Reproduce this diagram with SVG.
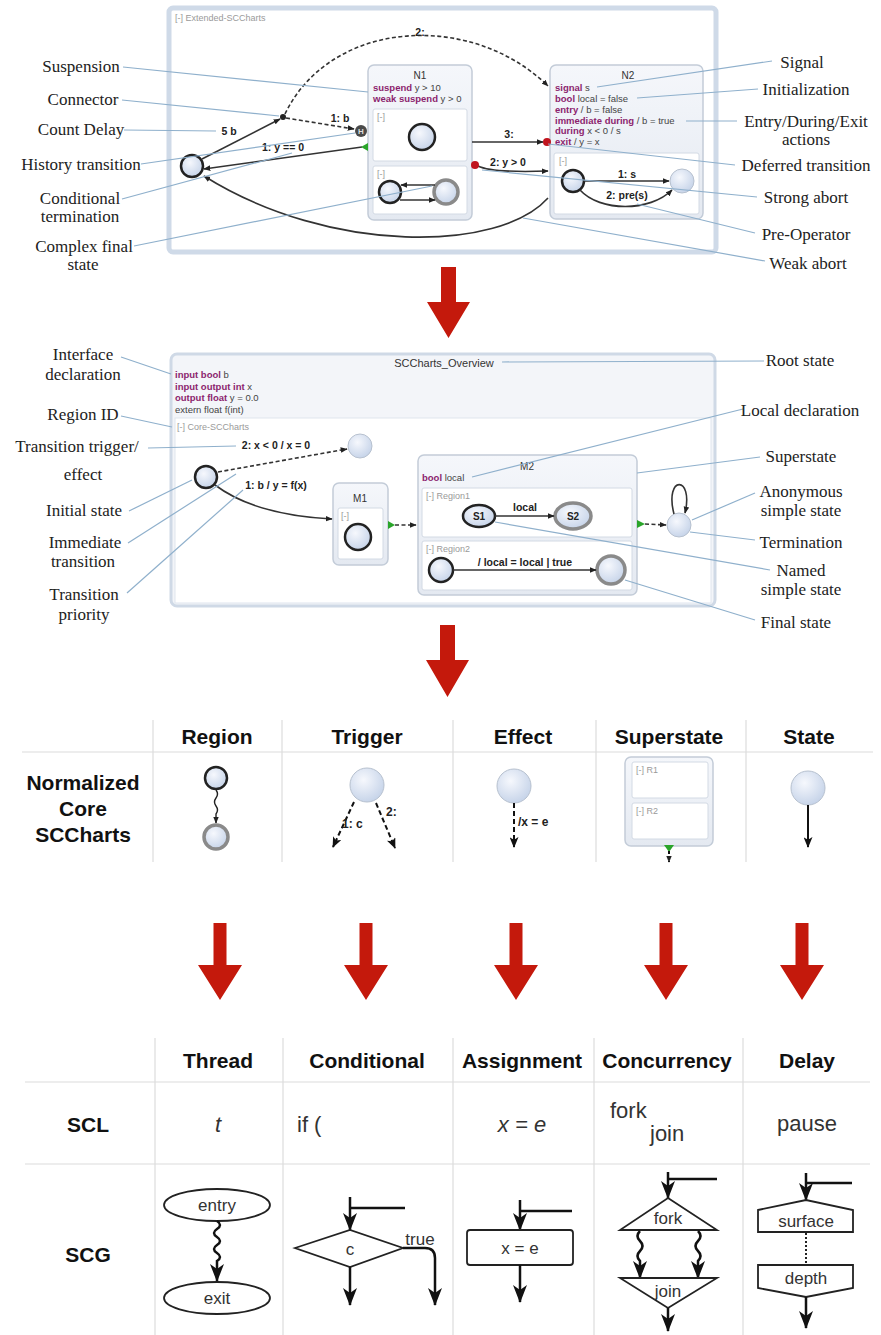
<svg xmlns="http://www.w3.org/2000/svg" width="881" height="1335" viewBox="0 0 881 1335">
<defs>
  <radialGradient id="stateFill" cx="0.4" cy="0.35" r="0.7">
    <stop offset="0" stop-color="#f6f8fd"/>
    <stop offset="1" stop-color="#c4d2e8"/>
  </radialGradient>
  <linearGradient id="boxFill" x1="0" y1="0" x2="0" y2="1">
    <stop offset="0" stop-color="#f5f7fb"/>
    <stop offset="1" stop-color="#e4e9f1"/>
  </linearGradient>
  <marker id="ah" viewBox="0 0 10 10" refX="9" refY="5" markerWidth="7" markerHeight="7" markerUnits="userSpaceOnUse" orient="auto">
    <path d="M0,1 L10,5 L0,9 z" fill="#222"/>
  </marker>
  <marker id="ahMid" viewBox="0 0 12 10" refX="11" refY="5" markerWidth="11" markerHeight="9" markerUnits="userSpaceOnUse" orient="auto">
    <path d="M0,0 L12,5 L0,10 L3,5 z" fill="#111"/>
  </marker>
  <marker id="ahBig" viewBox="0 0 18 14" refX="17" refY="7" markerWidth="18" markerHeight="14" markerUnits="userSpaceOnUse" orient="auto">
    <path d="M0,0 L18,7 L0,14 L5,7 z" fill="#111"/>
  </marker>
</defs>
<style>
  .lbl { font-family: "Liberation Serif", serif; font-size: 17px; fill: #222; text-anchor: middle; }
  .lead { stroke: #8fb0cc; stroke-width: 1.2; fill: none; }
  .st { fill: url(#stateFill); stroke: #222; stroke-width: 2.5; }
  .st-plain { fill: url(#stateFill); stroke: #b7c1cf; stroke-width: 1; }
  .st-final { fill: url(#stateFill); stroke: #8a8a8a; stroke-width: 3.5; }
  .box { fill: url(#boxFill); stroke: #c3ccd8; stroke-width: 1.5; }
  .reg { fill: #fff; stroke: #d3dae4; stroke-width: 1; }
  .tiny { font-family: "Liberation Sans", sans-serif; font-size: 9px; fill: #9a9a9a; }
  .code { font-family: "Liberation Sans", sans-serif; font-size: 9.5px; fill: #444; }
  .kw { fill: #8c1f6e; font-weight: bold; }
  .nm { font-family: "Liberation Sans", sans-serif; font-size: 10px; fill: #333; text-anchor: middle; }
  .tr { stroke: #333; stroke-width: 1.6; fill: none; }
  .dash { stroke-dasharray: 4 2.5; }
  .tl { font-family: "Liberation Sans", sans-serif; font-size: 10.5px; font-weight: bold; fill: #222; text-anchor: middle; }
  .red { fill: #c4190c; }
  .dot { fill: #c0141e; }
  .green { fill: #2aa52a; }
  .grid { stroke: #dcdcdc; stroke-width: 1.2; }
  .th { font-family: "Liberation Sans", sans-serif; font-size: 21px; font-weight: bold; fill: #111; text-anchor: middle; }
  .scl { font-family: "Liberation Sans", sans-serif; font-size: 22px; fill: #333; }
  .scg { stroke: #222; stroke-width: 1.8; fill: #fff; }
  .scgt { font-family: "Liberation Sans", sans-serif; font-size: 17px; fill: #333; text-anchor: middle; }
  .flow { stroke: #111; stroke-width: 2.5; fill: none; }
  .cell { stroke: #111; stroke-width: 2; fill: none; }
  .ctl { font-family: "Liberation Sans", sans-serif; font-size: 12px; font-weight: bold; fill: #222; }
</style>

<!-- ===== Extended SCCharts ===== -->
<g id="extended-frame">
  <rect x="169" y="8" width="547" height="244" rx="4" fill="#fff" stroke="#cfdae8" stroke-width="5"/>
  <text class="tiny" x="175" y="21">[-] Extended-SCCharts</text>
</g>

<g id="ext-init">
  <circle class="st" cx="192" cy="166" r="11"/>
</g>
<g id="ext-connector">
  <circle cx="283" cy="117" r="3" fill="#222"/>
</g>
<g id="ext-history">
  <circle cx="361" cy="131" r="6" fill="#4a4a4a"/>
  <text x="361" y="134" font-family="Liberation Sans, sans-serif" font-size="8" font-weight="bold" fill="#ddd" text-anchor="middle">H</text>
</g>

<g id="N1">
  <rect class="box" x="368" y="65" width="104" height="155" rx="6"/>
  <text class="nm" x="420" y="79">N1</text>
  <text class="code" x="373" y="91"><tspan class="kw">suspend</tspan> y &gt; 10</text>
  <text class="code" x="373" y="102"><tspan class="kw">weak suspend</tspan> y &gt; 0</text>
  <rect class="reg" x="373" y="109" width="94" height="52" rx="2"/>
  <text class="tiny" x="377" y="120">[-]</text>
  <circle class="st" cx="422" cy="137" r="13" stroke-width="3"/>
  <rect class="reg" x="373" y="166" width="94" height="48" rx="2"/>
  <text class="tiny" x="377" y="177">[-]</text>
  <circle class="st" cx="390" cy="192" r="11"/>
  <circle class="st-final" cx="446" cy="192" r="12"/>
  <line class="tr" x1="435" y1="185" x2="401" y2="185" marker-end="url(#ah)"/>
  <line class="tr" x1="400" y1="200" x2="435" y2="200" marker-end="url(#ah)"/>
</g>

<g id="N2">
  <rect class="box" x="550" y="65" width="153" height="154" rx="6"/>
  <text class="nm" x="628" y="79">N2</text>
  <text class="code" x="555" y="91"><tspan class="kw">signal</tspan> s</text>
  <text class="code" x="555" y="102"><tspan class="kw">bool</tspan> local = false</text>
  <text class="code" x="555" y="113"><tspan class="kw">entry</tspan> / b = false</text>
  <text class="code" x="555" y="124"><tspan class="kw">immediate during</tspan> / b = true</text>
  <text class="code" x="555" y="134"><tspan class="kw">during</tspan> x &lt; 0 / s</text>
  <text class="code" x="555" y="145"><tspan class="kw">exit</tspan> / y = x</text>
  <rect class="reg" x="554" y="153" width="145" height="61" rx="2"/>
  <text class="tiny" x="559" y="164">[-]</text>
  <circle class="st" cx="573" cy="181" r="11"/>
  <circle class="st-plain" cx="682" cy="181" r="12"/>
  <line class="tr" x1="584" y1="181" x2="669" y2="181" marker-end="url(#ah)"/>
  <text class="tl" x="627" y="178">1: s</text>
  <path class="tr" d="M580,190 C600,212 650,212 672,190" marker-end="url(#ah)"/>
  <text class="tl" x="627" y="199">2: pre(s)</text>
</g>

<g id="ext-connectors">
  <line class="tr" x1="202" y1="159" x2="280" y2="119" marker-end="url(#ah)"/>
  <text class="tl" x="229" y="135">5 b</text>
  <line class="tr dash" x1="286" y1="118" x2="354" y2="129" marker-end="url(#ah)"/>
  <text class="tl" x="340" y="122">1: b</text>
  <path class="tr dash" d="M285,114 C330,20 470,10 548,86" marker-end="url(#ah)"/>
  <text class="tl" x="420" y="36">2:</text>
  <line class="tr" x1="362" y1="147" x2="204" y2="169" marker-end="url(#ah)"/>
  <polygon class="green" points="361,147 368,143 368,151"/>
  <text class="tl" x="283" y="151">1: y == 0</text>
  <path class="tr" d="M548,198 C500,252 330,255 204,176" marker-end="url(#ah)"/>
  <line class="tr" x1="472" y1="142" x2="543" y2="142" marker-end="url(#ah)"/>
  <circle class="dot" cx="547" cy="142" r="4"/>
  <text class="tl" x="509" y="138">3:</text>
  <path class="tr" d="M478,166 Q492,173 548,171" marker-end="url(#ah)"/>
  <circle class="dot" cx="475" cy="165" r="4"/>
  <text class="tl" x="508" y="166">2: y &gt; 0</text>
</g>

<g id="ext-annotations">
  <line class="lead" x1="123" y1="67" x2="368" y2="92"/>
  <line class="lead" x1="122" y1="100" x2="279" y2="116"/>
  <line class="lead" x1="124" y1="130" x2="216" y2="131"/>
  <line class="lead" x1="141" y1="164" x2="355" y2="133"/>
  <line class="lead" x1="122" y1="199" x2="292" y2="153"/>
  <line class="lead" x1="134" y1="246" x2="432" y2="186"/>
  <line class="lead" x1="597" y1="87" x2="772" y2="61"/>
  <line class="lead" x1="637" y1="98" x2="758" y2="89"/>
  <line class="lead" x1="686" y1="121" x2="737" y2="121"/>
  <line class="lead" x1="548" y1="144" x2="735" y2="165"/>
  <line class="lead" x1="482" y1="170" x2="757" y2="197"/>
  <line class="lead" x1="637" y1="204" x2="755" y2="233"/>
  <line class="lead" x1="523" y1="218" x2="765" y2="261"/>
  <text class="lbl" x="81" y="72">Suspension</text>
  <text class="lbl" x="83" y="105">Connector</text>
  <text class="lbl" x="81" y="135">Count Delay</text>
  <text class="lbl" x="81" y="170">History transition</text>
  <text class="lbl" x="80" y="204">Conditional</text>
  <text class="lbl" x="80" y="222">termination</text>
  <text class="lbl" x="84" y="252">Complex final</text>
  <text class="lbl" x="83" y="270">state</text>
  <text class="lbl" x="802" y="68">Signal</text>
  <text class="lbl" x="806" y="95">Initialization</text>
  <text class="lbl" x="806" y="127">Entry/During/Exit</text>
  <text class="lbl" x="806" y="145">actions</text>
  <text class="lbl" x="806" y="171">Deferred transition</text>
  <text class="lbl" x="806" y="203">Strong abort</text>
  <text class="lbl" x="806" y="240">Pre-Operator</text>
  <text class="lbl" x="808" y="269">Weak abort</text>
</g>

<!-- transformation arrows -->
<polygon class="red" points="441,267 456,267 456,302 470,302 448.5,338 427,302 441,302"/>

<!-- ===== Core SCCharts overview ===== -->
<g id="overview-frame">
  <rect x="171" y="354" width="544" height="252" rx="6" fill="#f3f5f9" stroke="#cfd9e6" stroke-width="3"/>
  <rect x="175" y="418" width="536" height="185" fill="#fff" stroke="#dfe5ee" stroke-width="1"/>
  <text x="444" y="367" font-family="Liberation Sans, sans-serif" font-size="11" fill="#333" text-anchor="middle">SCCharts_Overview</text>
  <text class="code" x="175" y="378"><tspan class="kw">input bool</tspan> b</text>
  <text class="code" x="175" y="390"><tspan class="kw">input output int</tspan> x</text>
  <text class="code" x="175" y="401"><tspan class="kw">output float</tspan> y = 0.0</text>
  <text class="code" x="175" y="413">extern float f(int)</text>
  <text class="tiny" x="177" y="430">[-] Core-SCCharts</text>
</g>

<g id="ov-init">
  <circle class="st" cx="206" cy="477" r="11"/>
</g>
<g id="ov-anon-top">
  <circle class="st-plain" cx="360" cy="446" r="12"/>
</g>
<g id="M1">
  <rect class="box" x="333" y="483" width="55" height="82" rx="6"/>
  <text class="nm" x="360" y="502">M1</text>
  <rect class="reg" x="338" y="508" width="45" height="51" rx="2"/>
  <text class="tiny" x="341" y="519">[-]</text>
  <circle class="st" cx="358" cy="537" r="13" stroke-width="3"/>
</g>
<g id="M2">
  <rect class="box" x="418" y="455" width="219" height="140" rx="6"/>
  <text class="nm" x="527" y="470">M2</text>
  <text class="code" x="422" y="481"><tspan class="kw">bool</tspan> local</text>
  <rect class="reg" x="422" y="488" width="210" height="49" rx="2"/>
  <text class="tiny" x="426" y="499">[-] Region1</text>
  <ellipse class="st" cx="479" cy="516" rx="16" ry="11"/>
  <text x="479" y="520" font-family="Liberation Sans, sans-serif" font-size="10" font-weight="bold" fill="#222" text-anchor="middle">S1</text>
  <ellipse class="st-final" cx="573" cy="516" rx="18" ry="13"/>
  <text x="573" y="520" font-family="Liberation Sans, sans-serif" font-size="10" font-weight="bold" fill="#222" text-anchor="middle">S2</text>
  <line class="tr" x1="495" y1="516" x2="554" y2="516" marker-end="url(#ah)"/>
  <text class="tl" x="525" y="511">local</text>
  <rect class="reg" x="422" y="541" width="210" height="49" rx="2"/>
  <text class="tiny" x="426" y="552">[-] Region2</text>
  <circle class="st" cx="441" cy="570" r="12"/>
  <circle class="st-final" cx="611" cy="570" r="14"/>
  <line class="tr" x1="453" y1="570" x2="596" y2="570" marker-end="url(#ah)"/>
  <text class="tl" x="525" y="566">/ local = local | true</text>
</g>
<g id="ov-anon-right">
  <circle class="st-plain" cx="679" cy="525" r="12"/>
</g>

<g id="ov-connectors">
  <line class="tr dash" x1="218" y1="472" x2="347" y2="449" marker-end="url(#ah)"/>
  <text class="tl" x="276" y="449">2: x &lt; 0 / x = 0</text>
  <path class="tr" d="M215,485 Q255,515 332,519" marker-end="url(#ah)"/>
  <text class="tl" x="276" y="489">1: b / y = f(x)</text>
  <polygon class="green" points="388,521 395,525 388,529"/>
  <line class="tr dash" x1="395" y1="525" x2="416" y2="525" marker-end="url(#ah)"/>
  <polygon class="green" points="637,520 645,524 637,528"/>
  <line class="tr dash" x1="645" y1="524" x2="666" y2="525" marker-end="url(#ah)"/>
  <path class="tr" d="M674,514 C664,475 694,475 685,513" marker-end="url(#ah)"/>
</g>

<g id="ov-annotations">
  <line class="lead" x1="121" y1="357" x2="171" y2="374"/>
  <line class="lead" x1="121" y1="416" x2="172" y2="427"/>
  <line class="lead" x1="148" y1="448" x2="236" y2="446"/>
  <line class="lead" x1="129" y1="511" x2="192" y2="480"/>
  <line class="lead" x1="128" y1="543" x2="236" y2="474"/>
  <line class="lead" x1="127" y1="593" x2="243" y2="490"/>
  <line class="lead" x1="502" y1="362" x2="764" y2="361"/>
  <line class="lead" x1="472" y1="477" x2="743" y2="409"/>
  <line class="lead" x1="637" y1="473" x2="760" y2="457"/>
  <line class="lead" x1="692" y1="520" x2="755" y2="493"/>
  <line class="lead" x1="690" y1="532" x2="755" y2="540"/>
  <line class="lead" x1="495" y1="522" x2="770" y2="570"/>
  <line class="lead" x1="625" y1="580" x2="755" y2="620"/>
  <text class="lbl" x="83" y="360">Interface</text>
  <text class="lbl" x="83" y="380">declaration</text>
  <text class="lbl" x="83" y="420">Region ID</text>
  <text class="lbl" x="77" y="452">Transition trigger/</text>
  <text class="lbl" x="83" y="480">effect</text>
  <text class="lbl" x="84" y="516">Initial state</text>
  <text class="lbl" x="85" y="548">Immediate</text>
  <text class="lbl" x="83" y="567">transition</text>
  <text class="lbl" x="84" y="600">Transition</text>
  <text class="lbl" x="84" y="620">priority</text>
  <text class="lbl" x="800" y="366">Root state</text>
  <text class="lbl" x="800" y="416">Local declaration</text>
  <text class="lbl" x="801" y="462">Superstate</text>
  <text class="lbl" x="801" y="497">Anonymous</text>
  <text class="lbl" x="801" y="516">simple state</text>
  <text class="lbl" x="801" y="548">Termination</text>
  <text class="lbl" x="801" y="576">Named</text>
  <text class="lbl" x="801" y="595">simple state</text>
  <text class="lbl" x="796" y="628">Final state</text>
</g>

<polygon class="red" points="440,625 455,625 455,660 469,660 447.5,697 426,660 440,660"/>

<!-- ===== Normalized Core SCCharts table ===== -->
<g id="table-core">
  <line class="grid" x1="22" y1="752" x2="873" y2="752"/>
  <line class="grid" x1="153" y1="720" x2="153" y2="862"/>
  <line class="grid" x1="282" y1="720" x2="282" y2="862"/>
  <line class="grid" x1="453" y1="720" x2="453" y2="862"/>
  <line class="grid" x1="596" y1="720" x2="596" y2="862"/>
  <line class="grid" x1="746" y1="720" x2="746" y2="862"/>
  <text class="th" x="217" y="744">Region</text>
  <text class="th" x="367" y="744">Trigger</text>
  <text class="th" x="523" y="744">Effect</text>
  <text class="th" x="669" y="744">Superstate</text>
  <text class="th" x="809" y="744">State</text>
  <text class="th" x="83" y="790">Normalized</text>
  <text class="th" x="83" y="816">Core</text>
  <text class="th" x="83" y="842">SCCharts</text>
</g>
<g id="core-region">
  <circle class="st" cx="216" cy="778" r="11"/>
  <path d="M216,790 q3,4 0,8 q-3,4 0,8 q3,4 0,8 L216,823" stroke="#222" stroke-width="1.4" fill="none" marker-end="url(#ah)"/>
  <circle class="st-final" cx="216" cy="837" r="12"/>
</g>
<g id="core-trigger">
  <circle class="st-plain" cx="367" cy="785" r="17"/>
  <line class="cell" x1="354" y1="802" x2="333" y2="847" stroke-dasharray="5 3" marker-end="url(#ahMid)"/>
  <line class="cell" x1="376" y1="803" x2="395" y2="848" stroke-dasharray="5 3" marker-end="url(#ahMid)"/>
  <text class="ctl" x="342" y="828">1: c</text>
  <text class="ctl" x="386" y="816">2:</text>
</g>
<g id="core-effect">
  <circle class="st-plain" cx="514" cy="786" r="17"/>
  <line class="cell" x1="514" y1="803" x2="514" y2="847" stroke-dasharray="5 3" marker-end="url(#ahMid)"/>
  <text class="ctl" x="518" y="826">/x = e</text>
</g>
<g id="core-superstate">
  <rect class="box" x="625" y="757" width="88" height="89" rx="6" stroke="#ccd6e3" stroke-width="3"/>
  <rect class="reg" x="632" y="762" width="76" height="36" rx="2"/>
  <text class="tiny" x="636" y="773" fill="#cfcfcf">[-] R1</text>
  <rect class="reg" x="632" y="803" width="76" height="36" rx="2"/>
  <text class="tiny" x="636" y="814" fill="#cfcfcf">[-] R2</text>
  <polygon class="green" points="664,845 674,845 669,852"/>
  <line class="cell" x1="669" y1="851" x2="669" y2="862" stroke-width="1.6" stroke-dasharray="3 2" marker-end="url(#ah)"/>
</g>
<g id="core-state">
  <circle class="st-plain" cx="808" cy="788" r="17"/>
  <line class="cell" x1="808" y1="805" x2="808" y2="847" marker-end="url(#ahMid)"/>
</g>

<g id="lowering-arrows">
  <polygon class="red" points="213.5,923 226.5,923 226.5,965 242,965 220,1000 198,965 213.5,965"/>
  <polygon class="red" points="359.5,923 372.5,923 372.5,965 388,965 366,1000 344,965 359.5,965"/>
  <polygon class="red" points="509.5,923 522.5,923 522.5,965 538,965 516,1000 494,965 509.5,965"/>
  <polygon class="red" points="659.5,923 672.5,923 672.5,965 688,965 666,1000 644,965 659.5,965"/>
  <polygon class="red" points="795.5,923 808.5,923 808.5,965 824,965 802,1000 780,965 795.5,965"/>
</g>

<!-- ===== SCL / SCG table ===== -->
<g id="table-scg">
  <line class="grid" x1="25" y1="1082" x2="870" y2="1082"/>
  <line class="grid" x1="25" y1="1164" x2="870" y2="1164"/>
  <line class="grid" x1="155" y1="1038" x2="155" y2="1335"/>
  <line class="grid" x1="283" y1="1038" x2="283" y2="1335"/>
  <line class="grid" x1="453" y1="1038" x2="453" y2="1335"/>
  <line class="grid" x1="594" y1="1038" x2="594" y2="1335"/>
  <line class="grid" x1="743" y1="1038" x2="743" y2="1335"/>
  <text class="th" x="218" y="1068">Thread</text>
  <text class="th" x="367" y="1068">Conditional</text>
  <text class="th" x="522" y="1068">Assignment</text>
  <text class="th" x="667" y="1068">Concurrency</text>
  <text class="th" x="807" y="1068">Delay</text>
  <text class="th" x="88" y="1132">SCL</text>
  <text class="th" x="88" y="1262">SCG</text>
  <text class="scl" x="218" y="1132" text-anchor="middle" font-style="italic">t</text>
  <text class="scl" x="297" y="1132">if (</text>
  <text class="scl" x="522" y="1132" text-anchor="middle" font-style="italic">x = e</text>
  <text class="scl" x="610" y="1118">fork</text>
  <text class="scl" x="650" y="1141">join</text>
  <text class="scl" x="807" y="1131" text-anchor="middle">pause</text>
</g>

<g id="scg-thread">
  <ellipse class="scg" cx="217" cy="1205" rx="53" ry="16"/>
  <text class="scgt" x="217" y="1211">entry</text>
  <path class="flow" d="M217,1221 q6,4 0,8 q-6,4 0,8 q6,4 0,8 q-6,4 0,8 q6,4 0,8 L217,1281" marker-end="url(#ahBig)"/>
  <ellipse class="scg" cx="217" cy="1298" rx="53" ry="16"/>
  <text class="scgt" x="217" y="1304">exit</text>
</g>

<g id="scg-conditional">
  <path class="flow" d="M405,1208 H350"/>
  <path class="flow" d="M350,1197 V1230" marker-end="url(#ahBig)"/>
  <polygon class="scg" points="295,1248 350,1230 403,1248 350,1267"/>
  <text class="scgt" x="350" y="1255">c</text>
  <path class="flow" d="M350,1267 V1305" marker-end="url(#ahBig)"/>
  <path class="flow" d="M403,1248 H425 Q435,1248 435,1258 V1305" marker-end="url(#ahBig)"/>
  <text class="scgt" x="420" y="1245">true</text>
</g>

<g id="scg-assignment">
  <path class="flow" d="M572,1211 H520"/>
  <path class="flow" d="M520,1200 V1230" marker-end="url(#ahBig)"/>
  <rect class="scg" x="467" y="1230" width="106" height="35" rx="3"/>
  <text class="scgt" x="520" y="1254">x = e</text>
  <path class="flow" d="M520,1265 V1302" marker-end="url(#ahBig)"/>
</g>

<g id="scg-concurrency">
  <path class="flow" d="M717,1179 H668"/>
  <path class="flow" d="M668,1172 V1198" marker-end="url(#ahBig)"/>
  <polygon class="scg" points="668,1198 717,1230 620,1230"/>
  <text class="scgt" x="668" y="1224">fork</text>
  <path class="flow" d="M640,1231 q-5,5 0,10 q5,5 0,10 q-5,5 0,10 L640,1278" marker-end="url(#ahBig)"/>
  <path class="flow" d="M698,1231 q5,5 0,10 q-5,5 0,10 q5,5 0,10 L698,1278" marker-end="url(#ahBig)"/>
  <polygon class="scg" points="620,1278 717,1278 668,1308"/>
  <text class="scgt" x="668" y="1297">join</text>
  <path class="flow" d="M668,1308 V1331" marker-end="url(#ahBig)"/>
</g>

<g id="scg-delay">
  <path class="flow" d="M852,1183 H806"/>
  <path class="flow" d="M806,1173 V1200" marker-end="url(#ahBig)"/>
  <polygon class="scg" points="758,1210 806,1200 853,1210 853,1232 758,1232"/>
  <text class="scgt" x="806" y="1227">surface</text>
  <line x1="806" y1="1233" x2="806" y2="1264" stroke="#222" stroke-width="2" stroke-dasharray="2 2"/>
  <polygon class="scg" points="758,1265 853,1265 853,1288 806,1297 758,1288"/>
  <text class="scgt" x="806" y="1284">depth</text>
  <path class="flow" d="M806,1297 V1328" marker-end="url(#ahBig)"/>
</g>
</svg>
